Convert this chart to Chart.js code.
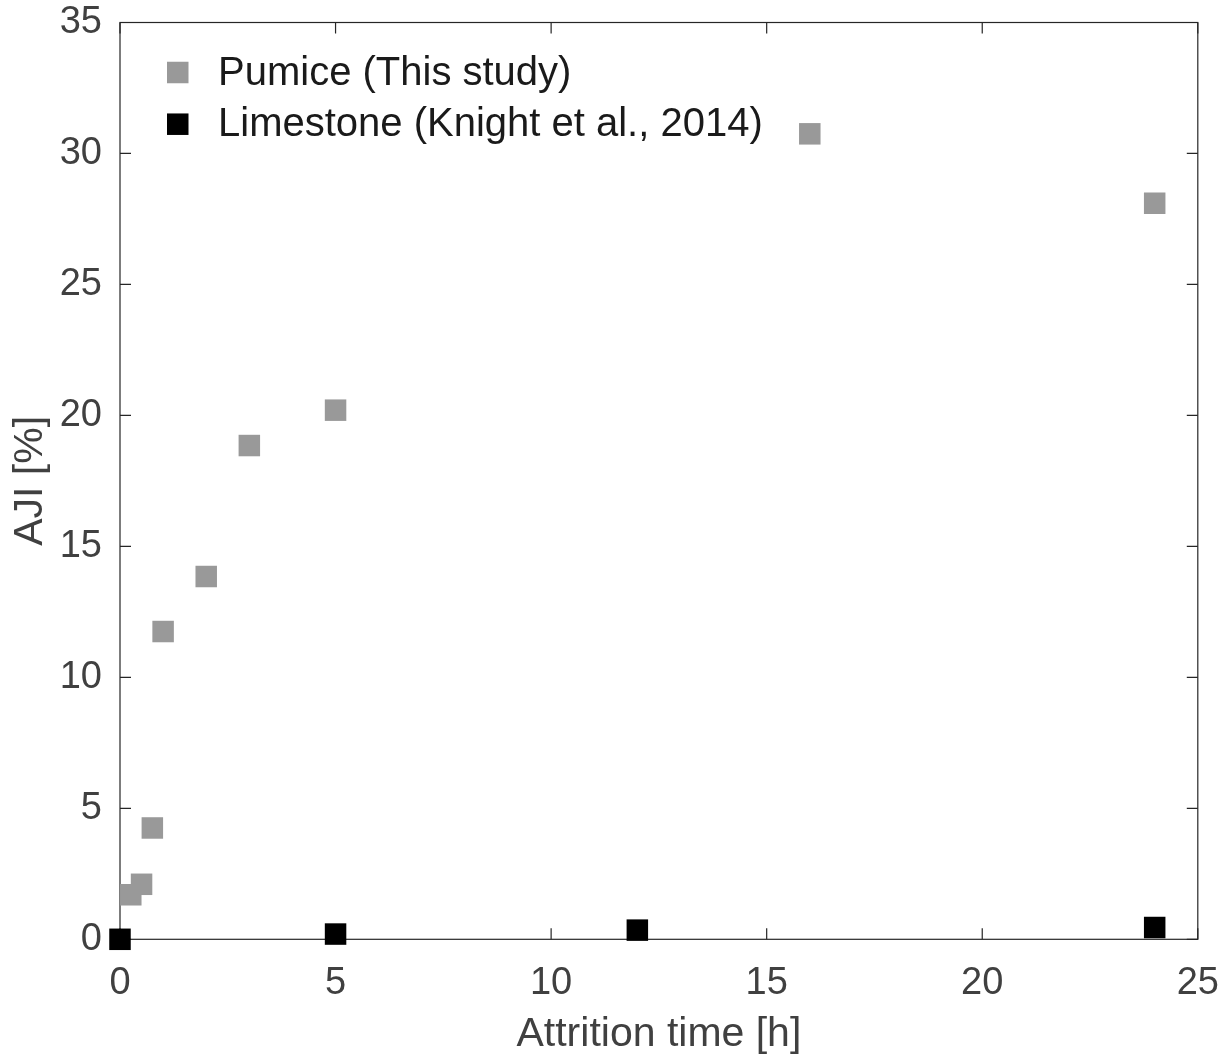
<!DOCTYPE html>
<html>
<head>
<meta charset="utf-8">
<title>AJI vs attrition time</title>
<script src="https://cdn.jsdelivr.net/npm/chart.js@4.4.1/dist/chart.umd.min.js"></script>
<style>
  html, body { margin: 0; padding: 0; background: #fff; }
  #wrap { width: 1228px; height: 1061px; }
</style>
</head>
<body>
<div id="wrap"><canvas id="chart" width="1228" height="1061"></canvas></div>
<script>
/* ---------------- DATA ---------------- */

const pumiceTime = [0.25, 0.5, 0.75, 1, 2, 3, 5, 16, 24];
const pumiceAJI = [1.7, 2.1, 4.25, 11.75, 13.85, 18.85, 20.2, 30.75, 28.1];

const limestoneTime = [0, 5, 12, 24];
const limestoneAJI = [0, 0.2, 0.35, 0.45];

const seriesLabels = ["Pumice (This study)", "Limestone (Knight et al., 2014)"];
const seriesColors = ["#999999", "#000000"];

const xTitle = "Attrition time [h]";
const yTitle = "AJI [%]";

const FONT = "'Liberation Sans', Arial, Helvetica, sans-serif";
const AXIS_COLOR = "#262626";
const TEXT_COLOR = "#404040";
const TICK_LEN = 11;

function toPoints(xs, ys) {
  return xs.map((x, i) => ({ x: x, y: ys[i] }));
}

/* ---------------- BOX + INWARD TICKS ---------------- */

const boxPlugin = {
  id: "box",
  beforeDatasetsDraw(chart) {
    const { ctx, chartArea: a, scales } = chart;
    ctx.save();
    ctx.strokeStyle = AXIS_COLOR;
    ctx.lineWidth = 1.2;
    ctx.strokeRect(a.left, a.top, a.right - a.left, a.bottom - a.top);

    ctx.beginPath();
    scales.x.ticks.forEach((t) => {
      const px = scales.x.getPixelForValue(t.value);
      ctx.moveTo(px, a.bottom);
      ctx.lineTo(px, a.bottom - TICK_LEN);
      ctx.moveTo(px, a.top);
      ctx.lineTo(px, a.top + TICK_LEN);
    });
    scales.y.ticks.forEach((t) => {
      const py = scales.y.getPixelForValue(t.value);
      ctx.moveTo(a.left, py);
      ctx.lineTo(a.left + TICK_LEN, py);
      ctx.moveTo(a.right, py);
      ctx.lineTo(a.right - TICK_LEN, py);
    });
    ctx.stroke();
    ctx.restore();
  },
};

/* ---------------- LEGEND ---------------- */

const legendPlugin = {
  id: "insideLegend",
  afterDraw(chart) {
    const { ctx, chartArea: a } = chart;
    const boxX = a.left + 47;
    const textX = a.left + 98;
    const rowY = [a.top + 50, a.top + 101.7];
    const side = 21.5;

    ctx.save();
    ctx.font = "40px " + FONT;
    ctx.textBaseline = "middle";
    ctx.textAlign = "left";
    chart.data.datasets.forEach((ds, i) => {
      ctx.fillStyle = ds.backgroundColor;
      ctx.fillRect(boxX, rowY[i] - side / 2, side, side);
      ctx.fillStyle = "#1a1a1a";
      ctx.fillText(ds.label, textX, rowY[i] + 1);
    });
    ctx.restore();
  },
};

/* ---------------- CHART ---------------- */

const ctx = document.getElementById("chart").getContext("2d");

new Chart(ctx, {
  type: "scatter",
  data: {
    datasets: [
      {
        label: seriesLabels[0],
        data: toPoints(pumiceTime, pumiceAJI),
        backgroundColor: seriesColors[0],
        borderWidth: 0,
        pointStyle: "rect",
        pointRadius: 15.2,
        clip: false,
        order: 1,
      },
      {
        label: seriesLabels[1],
        data: toPoints(limestoneTime, limestoneAJI),
        backgroundColor: seriesColors[1],
        borderWidth: 0,
        pointStyle: "rect",
        pointRadius: 15.2,
        clip: false,
        order: 0,
      },
    ],
  },
  options: {
    responsive: false,
    animation: false,
    layout: { padding: { top: 22.5, right: 30.2, bottom: 0, left: 0 } },
    plugins: {
      legend: { display: false },
      tooltip: { enabled: false },
    },
    scales: {
      x: {
        type: "linear",
        min: 0,
        max: 25,
        afterFit: (s) => {
          s.height = 121.7;
          s.paddingLeft = 0;
          s.paddingRight = 0;
        },
        grid: { display: false, drawTicks: false },
        border: { display: false },
        ticks: {
          stepSize: 5,
          padding: 21,
          color: TEXT_COLOR,
          font: { family: FONT, size: 38 },
          maxRotation: 0,
        },
        title: {
          display: true,
          text: xTitle,
          color: TEXT_COLOR,
          font: { family: FONT, size: 41 },
          padding: { top: 0, bottom: 2 },
        },
      },
      y: {
        type: "linear",
        min: 0,
        max: 35,
        afterFit: (s) => {
          s.width = 120;
          s.paddingTop = 0;
          s.paddingBottom = 0;
        },
        grid: { display: false, drawTicks: false },
        border: { display: false },
        ticks: {
          stepSize: 5,
          padding: 18,
          color: TEXT_COLOR,
          font: { family: FONT, size: 38 },
        },
        title: {
          display: true,
          text: yTitle,
          color: TEXT_COLOR,
          font: { family: FONT, size: 41 },
          padding: { top: 6, bottom: 0 },
        },
      },
    },
  },
  plugins: [boxPlugin, legendPlugin],
});
</script>
</body>
</html>
